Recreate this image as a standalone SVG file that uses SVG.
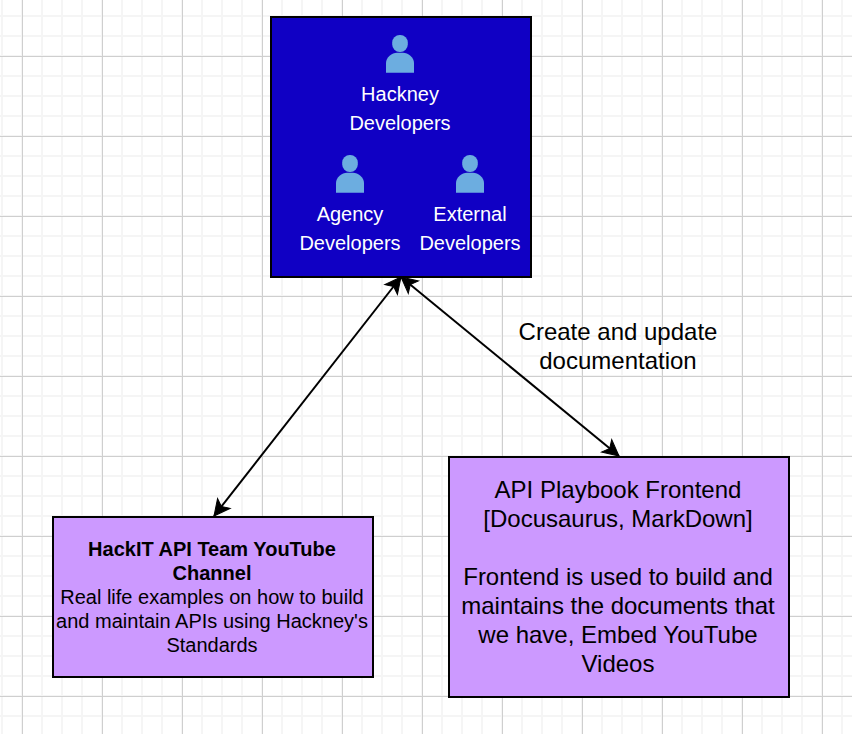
<svg xmlns="http://www.w3.org/2000/svg" width="852" height="734" viewBox="0 0 852 734">
<style>
text{font-family:"Liberation Sans",Arial,sans-serif;text-anchor:middle}
.w{fill:#fff;font-size:20px}
.k{fill:#000;font-size:20px}
.l{fill:#000;font-size:24px}
.box{stroke:#000;stroke-width:2}
.conn{fill:none;stroke:#000;stroke-width:2;marker-start:url(#a);marker-end:url(#a)}
</style>
<defs>
<pattern id="gmin" width="20" height="20" patternUnits="userSpaceOnUse" x="1" y="-5">
<path d="M0 0H2V20H0ZM2 0H20V2H2Z" fill="#f5f5f5"/>
</pattern>
<pattern id="gmaj" width="80" height="80" patternUnits="userSpaceOnUse" x="22" y="56">
<path d="M0.500 0V80M0 0.500H80" stroke="#cfcfcf" stroke-width="1" fill="none"/>
</pattern>
<marker id="a" viewBox="0 0 20 20" refX="19" refY="10" markerWidth="20" markerHeight="20" markerUnits="userSpaceOnUse" orient="auto-start-reverse">
<path d="M19 10L3 2L7 10L3 18Z" fill="#000" stroke="#000" stroke-width="1"/>
</marker>
<g id="person">
<path d="M-14 18.700V9C-14 3 -8 -1.300 -3 -1.300H3C8 -1.300 14 3 14 9V18.700Z" fill="#6cade0"/>
<rect x="-7.800" y="-19" width="15.600" height="17" rx="7.500" ry="7.500" fill="#6cade0"/>
</g>
</defs>
<rect width="852" height="734" fill="#fff"/>
<rect width="852" height="734" fill="url(#gmin)"/>
<rect width="852" height="734" fill="url(#gmaj)"/>
<g id="connectors">
<line class="conn" x1="214" y1="516" x2="401" y2="277"/>
<line class="conn" x1="401" y1="277" x2="619" y2="456"/>
</g>
<g id="developers">
<rect class="box" x="271" y="17" width="260" height="260" fill="#1000c4"/>
<use href="#person" x="400" y="54"/>
<text class="w" x="400" y="101">Hackney</text>
<text class="w" x="400" y="130">Developers</text>
<use href="#person" x="350" y="174"/>
<text class="w" x="350" y="221">Agency</text>
<text class="w" x="350" y="250">Developers</text>
<use href="#person" x="470" y="174"/>
<text class="w" x="470" y="221">External</text>
<text class="w" x="470" y="250">Developers</text>
</g>
<g id="edge-label">
<text class="l" x="618" y="340">Create and update</text>
<text class="l" x="618" y="369">documentation</text>
</g>
<g id="youtube">
<rect class="box" x="53" y="517" width="320" height="160" fill="#cc99ff"/>
<text class="k" x="212" y="556" font-weight="bold">HackIT API Team YouTube</text>
<text class="k" x="212" y="580" font-weight="bold">Channel</text>
<text class="k" x="212" y="604">Real life examples on how to build</text>
<text class="k" x="212" y="628">and maintain APIs using Hackney's</text>
<text class="k" x="212" y="652">Standards</text>
</g>
<g id="frontend">
<rect class="box" x="449" y="457" width="340" height="240" fill="#cc99ff"/>
<text class="l" x="618" y="498">API Playbook Frontend</text>
<text class="l" x="618" y="527">[Docusaurus, MarkDown]</text>
<text class="l" x="618" y="585">Frontend is used to build and</text>
<text class="l" x="618" y="614">maintains the documents that</text>
<text class="l" x="618" y="643">we have, Embed YouTube</text>
<text class="l" x="618" y="672">Videos</text>
</g>
</svg>
